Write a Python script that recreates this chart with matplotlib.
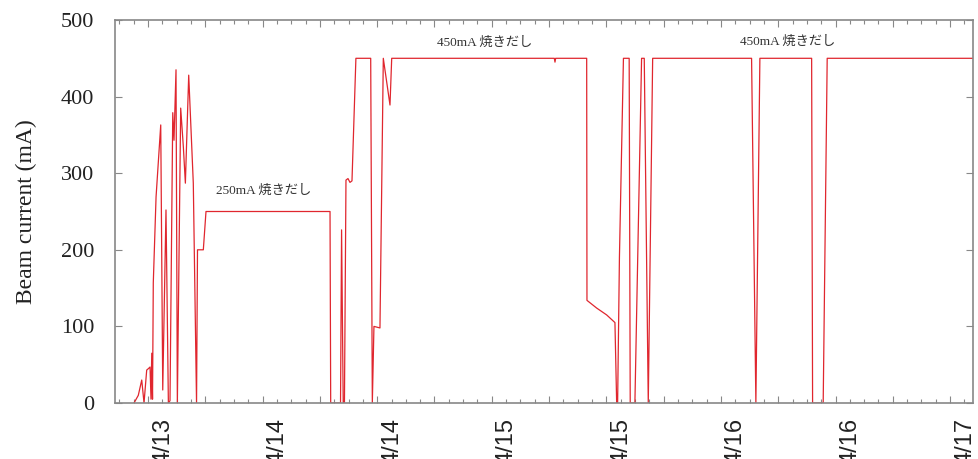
import matplotlib
matplotlib.use('Agg')
import matplotlib.pyplot as plt
from matplotlib.ticker import MultipleLocator
import matplotlib.transforms as mtransforms

# hours since 4/13 00:00
hours = [10.53, 10.98, 11.34, 11.58, 11.86, 12.05, 12.21, 12.31, 12.39, 12.47,
         12.55, 12.84, 13.33, 13.54, 13.88, 14.13, 14.30, 14.59, 14.72, 14.93,
         15.07, 15.42, 15.70, 15.91, 16.26, 16.74, 17.08, 17.18, 17.79, 18.07,
         31.06, 31.13, 32.16, 32.27, 32.44, 32.57, 32.73, 32.94, 33.15, 33.36,
         33.77, 35.32, 35.49, 35.66, 36.29, 36.64, 37.34, 37.52, 54.55, 54.62,
         54.69, 57.94, 57.97, 58.98, 60.03, 60.90, 61.08, 61.18, 61.37, 61.79,
         62.39, 62.50, 62.99, 63.69, 63.97, 64.39, 64.85, 75.21, 75.66, 76.08,
         81.50, 81.60, 82.71, 83.13, 98.40]
current = [0, 10, 30, 0, 43, 45, 47, 5, 65, 5,
           157, 269, 363, 17, 252, 0, 3, 379, 343, 435,
           0, 385, 334, 287, 428, 287, 0, 200, 200, 250,
           250, 0, 0, 226, 0, 0, 291, 293, 288, 290,
           450, 450, 0, 100, 98, 450, 389, 450, 450, 445,
           450, 450, 134, 124, 115, 105, 0, 0, 190, 450,
           450, 0, 0, 450, 450, 0, 450, 450, 0, 450,
           450, 0, 0, 450, 450]

tick_hours = [12, 24, 36, 48, 60, 72, 84, 96]
tick_labels = ['4/13', '4/14', '4/14', '4/15', '4/15', '4/16', '4/16', '4/17']

notes = ['250mA 焼きだし', '450mA 焼きだし', '450mA 焼きだし']
note_x = [19.1, 42.3, 74.0]
note_y = [277, 470, 471]

serif = ['Liberation Serif', 'Noto Sans CJK JP']

fig = plt.figure(figsize=(9.79, 4.59), dpi=100)
ax = fig.add_axes([115/979, 56/459, 858/979, 383/459])

ax.plot(hours, current, color='#e0262e', lw=0.9)

ax.set_xlim(8.54, 98.4)
ax.set_ylim(0, 500)

ax.xaxis.set_major_locator(MultipleLocator(6))
ax.xaxis.set_minor_locator(MultipleLocator(1.5))
ax.yaxis.set_major_locator(MultipleLocator(100))
ax.set_xticklabels([])
ax.tick_params(which='both', direction='in', top=True, right=True, color='#888888')
ax.tick_params(which='major', length=5, width=0.8)
ax.tick_params(which='minor', length=3, width=0.8)
ax.tick_params(axis='y', labelsize=16, pad=15, labelcolor='#222222')
for lab in ax.get_yticklabels():
    lab.set_family(serif)

for s in ax.spines.values():
    s.set_color('#888888')
    s.set_linewidth(1.2)

# date labels sit a little right of their ticks (and run off the bottom, as in the original)
shift = mtransforms.ScaledTranslation(15/100, 0, fig.dpi_scale_trans)
for h, t in zip(tick_hours, tick_labels):
    ax.text(h, -15/383*500, t, rotation=90, ha='center', va='top', fontsize=17,
            family=['Liberation Sans', 'DejaVu Sans'], color='#222222',
            transform=ax.transData + shift, clip_on=False)

ax.set_ylabel('Beam current (mA)', fontsize=17, family=serif, color='#222222', labelpad=17)

for t, x, y in zip(notes, note_x, note_y):
    ax.text(x, y, t, fontsize=9.5, family=serif, color='#333333', va='center')

fig.savefig('out.png', dpi=100)
